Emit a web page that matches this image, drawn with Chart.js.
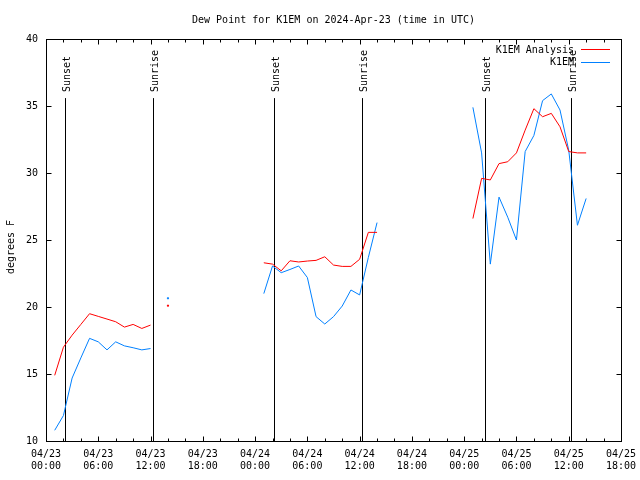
<!DOCTYPE html>
<html>
<head>
<meta charset="utf-8">
<title>Dew Point for K1EM</title>
<script src="https://cdn.jsdelivr.net/npm/chart.js@4/dist/chart.umd.min.js"></script>
<style>
    html, body { margin: 0; padding: 0; background: #ffffff; }
    #chart { display: block; }
</style>
</head>
<body>
<canvas id="chart" width="640" height="480"></canvas>
<script>
// hours since 04/23 00:00 UTC, null entries break the line
const hours = [1, 2, 3, 4, 5, 6, 7, 8, 9, 10, 11, 12, 13, 14, 15,
    25, 26, 27, 28, 29, 30, 31, 32, 33, 34, 35, 36, 37, 38, 39,
    49, 50, 51, 52, 53, 54, 55, 56, 57, 58, 59, 60, 61, 62];
const analysis = [14.9, 17.0, 17.9, 18.7, 19.5, 19.3, 19.1, 18.9, 18.5, 18.7, 18.4, 18.65, null, 20.1, null,
    23.3, 23.2, 22.7, 23.45, 23.36, 23.43, 23.48, 23.75, 23.13, 23.03, 23.03, 23.56, 25.57, 25.57, null,
    26.6, 29.6, 29.48, 30.7, 30.84, 31.5, 33.2, 34.8, 34.2, 34.45, 33.45, 31.6, 31.5, 31.5];
const observed = [10.8, 11.9, 14.7, 16.2, 17.66, 17.4, 16.8, 17.4, 17.1, 16.96, 16.8, 16.9, null, 20.65, null,
    21.0, 23.06, 22.56, 22.8, 23.06, 22.2, 19.28, 18.73, 19.28, 20.07, 21.27, 20.9, 23.7, 26.3, null,
    34.9, 31.5, 23.2, 28.2, 26.7, 25.0, 31.6, 32.8, 35.4, 35.9, 34.7, 31.7, 26.1, 28.1];

const seriesNames = ["K1EM Analysis", "K1EM"];
const dayLabels = ["04/23", "04/24", "04/25"];
const sunTimes = [2.2, 12.3, 26.2, 36.3, 50.35, 60.3];
const sunNames = ["Sunset", "Sunrise", "Sunset", "Sunrise", "Sunset", "Sunrise"];
const yTicks = [10, 15, 20, 25, 30, 35, 40];

const FONT = "10px 'DejaVu Sans Mono', 'Liberation Mono', monospace";
const RED = "#ff0000";
const BLUE = "#0080ff";

document.addEventListener("DOMContentLoaded", function () {
    const canvas = document.getElementById("chart");

    function toPoints(values) {
        return hours.map((h, i) => ({ x: h, y: values[i] }));
    }

    // gnuplot shows lone samples as a single dot
    function loneDot(ctx) {
        const d = ctx.dataset.data;
        const i = ctx.dataIndex;
        if (d[i].y == null) return 0;
        const prev = d[i - 1], next = d[i + 1];
        const alone = (!prev || prev.y == null) && (!next || next.y == null);
        return alone ? 0.8 : 0;
    }

    function xLabel(h) {
        const day = dayLabels[Math.floor(h / 24)];
        const hh = String(h % 24).padStart(2, "0");
        return [day, hh + ":00"];
    }

    // frame, inward ticks, sun lines, title, legend
    const gnuplotLook = {
        id: "gnuplotLook",
        beforeDatasetsDraw(chart) {
            const c = chart.ctx;
            const a = chart.chartArea;
            const x = chart.scales.x;
            c.save();
            c.strokeStyle = "#000";
            c.lineWidth = 1;
            c.font = FONT;
            c.fillStyle = "#000";
            const lineTop = a.top + 0.147 * (a.bottom - a.top);
            sunTimes.forEach((t, i) => {
                const px = Math.round(x.getPixelForValue(t)) + 0.5;
                c.beginPath();
                c.moveTo(px, lineTop);
                c.lineTo(px, a.bottom);
                c.stroke();
                c.save();
                c.translate(px + 1.5, lineTop - 6);
                c.rotate(-Math.PI / 2);
                c.textAlign = "left";
                c.textBaseline = "middle";
                c.fillText(sunNames[i], 0, 0);
                c.restore();
            });
            c.restore();
        },
        afterDraw(chart) {
            const c = chart.ctx;
            const a = chart.chartArea;
            const x = chart.scales.x;
            const y = chart.scales.y;
            const L = Math.round(a.left) + 0.5, R = Math.round(a.right) + 0.5;
            const T = Math.round(a.top) + 0.5, B = Math.round(a.bottom) + 0.5;
            c.save();
            c.strokeStyle = "#000";
            c.lineWidth = 1;
            c.strokeRect(L, T, R - L, B - T);
            c.beginPath();
            for (let h = x.min; h <= x.max; h += 2) {
                const px = Math.round(x.getPixelForValue(h)) + 0.5;
                const len = h % 6 === 0 ? 5 : 3;
                c.moveTo(px, B); c.lineTo(px, B - len);
                c.moveTo(px, T); c.lineTo(px, T + len);
            }
            yTicks.forEach(v => {
                const py = Math.round(y.getPixelForValue(v)) + 0.5;
                c.moveTo(L, py); c.lineTo(L + 5, py);
                c.moveTo(R, py); c.lineTo(R - 5, py);
            });
            c.stroke();

            c.font = FONT;
            c.fillStyle = "#000";
            c.textBaseline = "middle";
            c.textAlign = "center";
            c.fillText("Dew Point for K1EM on 2024-Apr-23 (time in UTC)", (a.left + a.right) / 2, 20);

            c.save();
            c.translate(11, 247);
            c.rotate(-Math.PI / 2);
            c.fillText("degrees F", 0, 0);
            c.restore();

            // legend, text on the left and sample on the right
            const colors = [RED, BLUE];
            seriesNames.forEach((name, i) => {
                const ly = 50 + i * 12.5;
                c.textAlign = "right";
                c.fillStyle = "#000";
                c.fillText(name, 574, ly);
                c.strokeStyle = colors[i];
                c.beginPath();
                c.moveTo(581, Math.round(ly) - 0.5);
                c.lineTo(610, Math.round(ly) - 0.5);
                c.stroke();
            });
            c.restore();
        }
    };

    new Chart(canvas.getContext("2d"), {
        type: "line",
        data: {
            datasets: [{
                label: seriesNames[0],
                data: toPoints(analysis),
                borderColor: RED,
                backgroundColor: RED,
                borderWidth: 1,
                pointRadius: loneDot,
                pointStyle: "rect",
                tension: 0
            }, {
                label: seriesNames[1],
                data: toPoints(observed),
                borderColor: BLUE,
                backgroundColor: BLUE,
                borderWidth: 1,
                pointRadius: loneDot,
                pointStyle: "rect",
                tension: 0
            }]
        },
        options: {
            responsive: false,
            animation: false,
            devicePixelRatio: 1,
            layout: { padding: { left: 0, top: 39, right: 19, bottom: 0 } },
            plugins: {
                legend: { display: false },
                title: { display: false },
                tooltip: { enabled: false }
            },
            scales: {
                x: {
                    type: "linear",
                    min: 0,
                    max: 66,
                    grid: { display: false, drawTicks: false },
                    border: { display: false },
                    afterFit: s => {
                        s.height = 39;
                        s.paddingLeft = 0;
                        s.paddingRight = 0;
                    },
                    ticks: {
                        stepSize: 6,
                        autoSkip: false,
                        maxRotation: 0,
                        padding: 7,
                        color: "#000",
                        font: { family: "'DejaVu Sans Mono', monospace", size: 10, lineHeight: 1.25 },
                        callback: v => xLabel(v)
                    }
                },
                y: {
                    min: 10,
                    max: 40,
                    grid: { display: false, drawTicks: false },
                    border: { display: false },
                    afterFit: s => { s.width = 46; },
                    afterBuildTicks: s => { s.ticks = yTicks.map(v => ({ value: v })); },
                    ticks: {
                        padding: 8,
                        color: "#000",
                        font: { family: "'DejaVu Sans Mono', monospace", size: 10 }
                    }
                }
            }
        },
        plugins: [gnuplotLook]
    });
});
</script>
</body>
</html>
